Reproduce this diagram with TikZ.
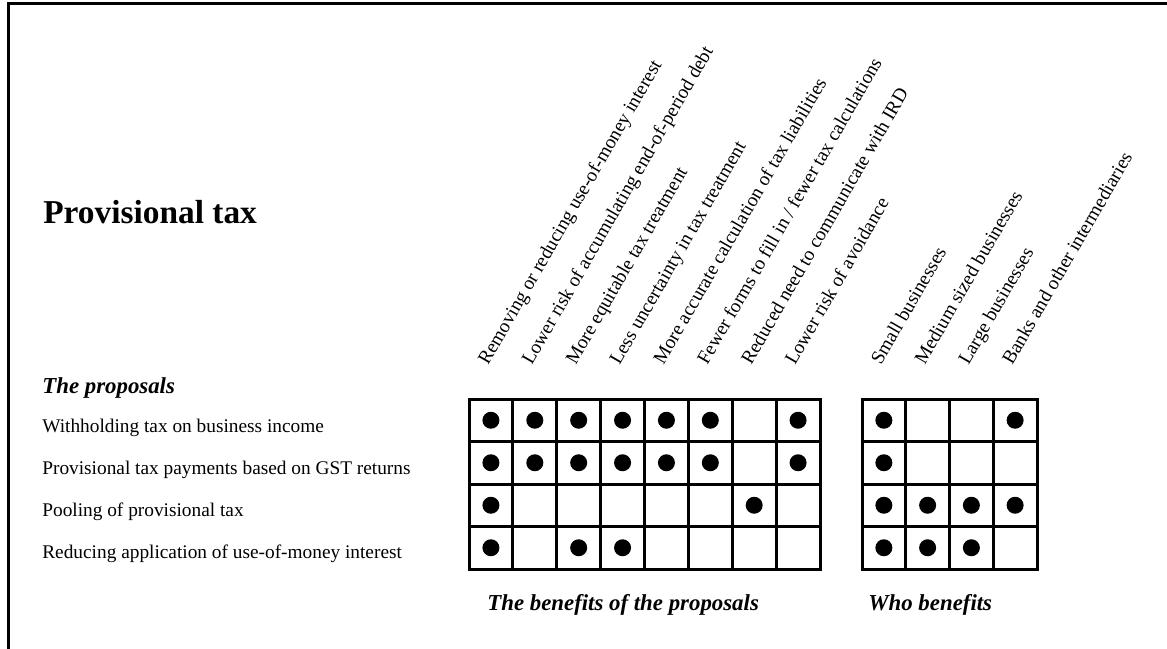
\documentclass[tikz,border=0pt]{standalone}
\usepackage{fontspec}
\setmainfont{Liberation Serif}
\usetikzlibrary{positioning}

\begin{document}
\begin{tikzpicture}[x=0.02cm, y=-0.02cm,
            rowlabel/.style={anchor=base west, inner sep=0pt, font=\fontsize{11}{13}\selectfont},
            collabel/.style={anchor=base west, inner sep=0pt, rotate=60, font=\fontsize{11}{13}\selectfont},
            heading/.style={anchor=base west, inner sep=0pt, font=\fontsize{13}{15}\selectfont\bfseries\itshape},
            cell/.style={line width=0.06cm},
            dot/.style={circle, fill=black, inner sep=0pt, minimum size=0.34cm}
        ]
            \useasboundingbox (0,0) rectangle (1167,649);

            % Frame
            \draw[line width=0.05cm] (8.5,649) -- (8.5,3.5) -- (1167,3.5);

            % Title
            \node[anchor=base west, inner sep=0pt, font=\fontsize{19}{22}\selectfont\bfseries] (title) at (43,223) {Provisional tax};

            % Proposals
            \node[heading] (proposals) at (42,393) {The proposals};
            \foreach [count=\i] \txt in {Withholding tax on business income,
                    Provisional tax payments based on GST returns,
                    Pooling of provisional tax,
                    Reducing application of use-of-money interest} {
                \node[rowlabel] (prop\i) at (42, {432+(\i-1)*42}) {\txt};
            }

            % Benefits grid
            \draw[cell] (469,399) rectangle (820,569);
            \foreach \c in {1,...,7} {
                \draw[cell] ({469+\c*43.875},399) -- ({469+\c*43.875},569);
            }
            \foreach \r in {1,2,3} {
                \draw[cell] (469,{399+\r*42.5}) -- (820,{399+\r*42.5});
            }
            \foreach [count=\i] \txt in {Removing or reducing use-of-money interest,
                    Lower risk of accumulating end-of-period debt,
                    More equitable tax treatment,
                    Less uncertainty in tax treatment,
                    More accurate calculation of tax liabilities,
                    {Fewer forms to fill in / fewer tax calculations},
                    Reduced need to communicate with IRD,
                    Lower risk of avoidance} {
                \node[collabel] (ben\i) at ({469+(\i-0.5)*43.875-3}, 366) {\txt};
            }
            \foreach \r/\cols in {1/{1,2,3,4,5,6,8}, 2/{1,2,3,4,5,6,8}, 3/{1,7}, 4/{1,3,4}} {
                \foreach \c in \cols {
                    \node[dot] (b\r-\c) at ({469+(\c-0.5)*43.875}, {399+(\r-0.5)*42.5}) {};
                }
            }
            \node[heading] (benefits) at (487,610) {The benefits of the proposals};

            % Who benefits grid
            \draw[cell] (862,399) rectangle (1037,569);
            \foreach \c in {1,2,3} {
                \draw[cell] ({862+\c*43.75},399) -- ({862+\c*43.75},569);
            }
            \foreach \r in {1,2,3} {
                \draw[cell] (862,{399+\r*42.5}) -- (1037,{399+\r*42.5});
            }
            \foreach [count=\i] \txt in {Small businesses,
                    Medium sized businesses,
                    Large businesses,
                    Banks and other intermediaries} {
                \node[collabel] (who\i) at ({862+(\i-0.5)*43.75-3}, 366) {\txt};
            }
            \foreach \r/\cols in {1/{1,4}, 2/{1}, 3/{1,2,3,4}, 4/{1,2,3}} {
                \foreach \c in \cols {
                    \node[dot] (w\r-\c) at ({862+(\c-0.5)*43.75}, {399+(\r-0.5)*42.5}) {};
                }
            }
            \node[heading] (whobenefits) at (868,610) {Who benefits};
        \end{tikzpicture}
\end{document}
